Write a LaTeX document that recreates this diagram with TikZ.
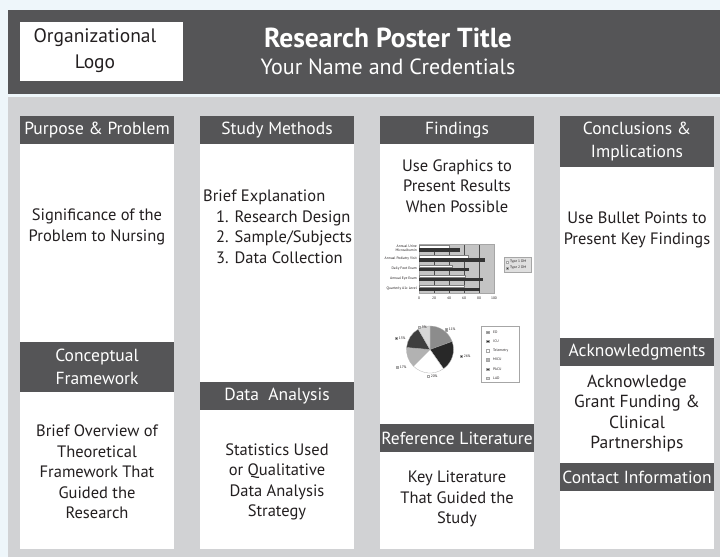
\documentclass[tikz,border=0pt]{standalone}
\usepackage{fontspec}
\setmainfont{PT Sans}
\definecolor{bgblue}{RGB}{238,246,250}
\definecolor{dk}{RGB}{85,85,87}
\definecolor{panel}{RGB}{209,210,212}
\definecolor{ink}{RGB}{35,31,32}
\definecolor{pED}{RGB}{140,140,140}
\definecolor{pICU}{RGB}{40,40,40}
\definecolor{pTel}{RGB}{255,255,255}
\definecolor{pMICU}{RGB}{178,178,178}
\definecolor{pPACU}{RGB}{62,62,62}
\definecolor{pLAD}{RGB}{215,215,215}
\definecolor{plotbg}{RGB}{196,196,196}
\newcommand\fs[2]{\fontsize{#1}{#2}\selectfont}
\begin{document}
\begin{tikzpicture}[x=1pt,y=-1pt,
  hdr/.style={fill=dk,text=white,minimum width=154pt,inner sep=0pt,align=center,font=\fs{17.5}{23}},
  body/.style={text=ink,align=center,inner sep=0pt,font=\fs{16.5}{20.5}},
  tinytxt/.style={font=\fs{3.6}{4.2},text=ink,inner sep=0pt},
  mk/.style={draw=gray!70,line width=0.2pt},
]
\useasboundingbox (0,0) rectangle (720,557);
\fill[bgblue] (0,0) rectangle (720,557);
\fill[dk] (8,10) rectangle (720,94);
\fill[panel] (8,97) rectangle (720,557);
% header
\node[fill=white,minimum width=163pt,minimum height=59pt,inner sep=0pt] (logo) at (101.5,51.5) {};
\node[font=\fs{19.5}{26},text=ink,align=center,inner sep=0pt] (logotext) at (95,50.5) {Organizational\\Logo};
\node[font=\bfseries\fs{27.5}{30},text=white,inner sep=0pt] (title) at (388,38) {Research Poster Title};
\node[font=\fs{22}{26},text=white,inner sep=0pt] (subtitle) at (388,67) {Your Name and Credentials};
% column boxes
\foreach \cx in {97,277,457,637} \fill[white] (\cx-77,144) rectangle (\cx+77,549);
% headers
\node[hdr,minimum height=28pt] (h1) at (97,130) {Purpose \& Problem};
\node[hdr,minimum height=28pt] (h2) at (277,130) {Study Methods};
\node[hdr,minimum height=28pt] (h3) at (457,130) {Findings};
\node[hdr,minimum height=51pt] (h4) at (637,141.5) {Conclusions \&\\Implications};
\node[hdr,minimum height=50pt] (h5) at (97,367) {Conceptual\\Framework};
\node[hdr,minimum height=28pt] (h6) at (277,396) {Data\ \ Analysis};
\node[hdr,minimum height=28pt] (h7) at (457,438) {Reference Literature};
\node[hdr,minimum height=28pt] (h8) at (637,352) {Acknowledgments};
\node[hdr,minimum height=28pt] (h9) at (637,477) {Contact Information};
% body texts
\node[body] (t1) at (97,227) {Significance of the\\Problem to Nursing};
\node[body] (t2) at (97,472) {Brief Overview of\\Theoretical\\Framework That\\Guided the\\Research};
\node[body,align=left,anchor=west] (t3) at (203,227) {Brief Explanation\\\hspace*{13pt}1. Research Design\\\hspace*{13pt}2. Sample/Subjects\\\hspace*{13pt}3. Data Collection};
\node[body] (t4) at (277,482) {Statistics Used\\or Qualitative\\Data Analysis\\Strategy};
\node[body] (t5) at (457,186) {Use Graphics to\\Present Results\\When Possible};
\node[body] (t6) at (457,499) {Key Literature\\That Guided the\\Study};
\node[body] (t7) at (637,230) {Use Bullet Points to\\Present Key Findings};
\node[body,font=\fs{17.5}{20.5}] (t8) at (637,413.5) {Acknowledge\\Grant Funding \&\\Clinical\\Partnerships};
% bar chart
\fill[plotbg] (419,244) rectangle (494,293);
\foreach \val in {20,40,60,80} \draw[gray!60!black,line width=0.4pt] ({419+0.75*\val},244) -- ({419+0.75*\val},293);
\draw[gray!70,line width=0.4pt] (419,244) rectangle (494,293);
\foreach \i/\w/\d in {0/40/55,1/65/88,2/44/66,3/62/85,4/60/81} {
  \pgfmathsetmacro\yc{244+9.8*(\i+0.5)}
  \filldraw[fill=white,draw=gray,line width=0.2pt] (419,\yc-3.4) rectangle ({419+0.75*\w},\yc-1.1);
  \fill[black!80] (419,\yc-0.6) rectangle ({419+0.75*\d},\yc+2.8);
}
\node[tinytxt,anchor=east,align=right] (cat0) at (417,248) {Annual Urine\\Microalbumin};
\node[tinytxt,anchor=east] (cat1) at (417,258.7) {Annual Podiatry Visit};
\node[tinytxt,anchor=east] (cat2) at (417,268.5) {Daily Foot Exam};
\node[tinytxt,anchor=east] (cat3) at (417,278.3) {Annual Eye Exam};
\node[tinytxt,anchor=east] (cat4) at (417,288.1) {Quarterly A1c Level};
\foreach \val in {0,20,40,60,80,100} \node[tinytxt] (ax\val) at ({419+0.75*\val},298) {\val};
\filldraw[fill=gray!25,draw=gray!70,line width=0.3pt] (504,257) rectangle (531,272);
\filldraw[mk,fill=white] (506,260.8) rectangle +(2.4,2.4);
\filldraw[mk,fill=black!80] (506,266.8) rectangle +(2.4,2.4);
\node[tinytxt,anchor=west] (lg1) at (510,262) {Type 1 DM};
\node[tinytxt,anchor=west] (lg2) at (510,268) {Type 2 DM};
% pie chart
\foreach \a/\b/\c in {0/70/pED,70/145/pICU,145/225/pTel,225/275/pMICU,275/330/pPACU,330/360/pLAD}
  \filldraw[fill=\c,draw=gray!60,line width=0.3pt] (430,349.5) -- ++({\a-90}:23.5) arc[start angle={\a-90},end angle={\b-90},radius=23.5] -- cycle;
\foreach \mx/\my/\c/\t/\n in {418/327/pLAD/9/q1,445/329.5/pED/11/q2,460/356/pICU/26/q3,427/376/pTel/20/q4,396/367/pMICU/17/q5,395/338/pPACU/15/q6} {
  \filldraw[mk,fill=\c] (\mx,\my-1.2) rectangle +(2.4,2.4);
  \node[tinytxt,anchor=west] (\n) at (\mx+3.6,\my) {\t\%};
}
\filldraw[fill=white,draw=gray!70,line width=0.3pt] (481,326) rectangle (519,382);
\foreach \k/\c/\t in {0/pED/ED,1/pICU/ICU,2/pTel/Telemetry,3/pMICU/MICU,4/pPACU/PACU,5/pLAD/LAD} {
  \filldraw[mk,fill=\c] (486.5,332+9.2*\k-1.2) rectangle +(2.4,2.4);
  \node[tinytxt,anchor=west] (e\k) at (493,332+9.2*\k) {\t};
}
\end{tikzpicture}
\end{document}
